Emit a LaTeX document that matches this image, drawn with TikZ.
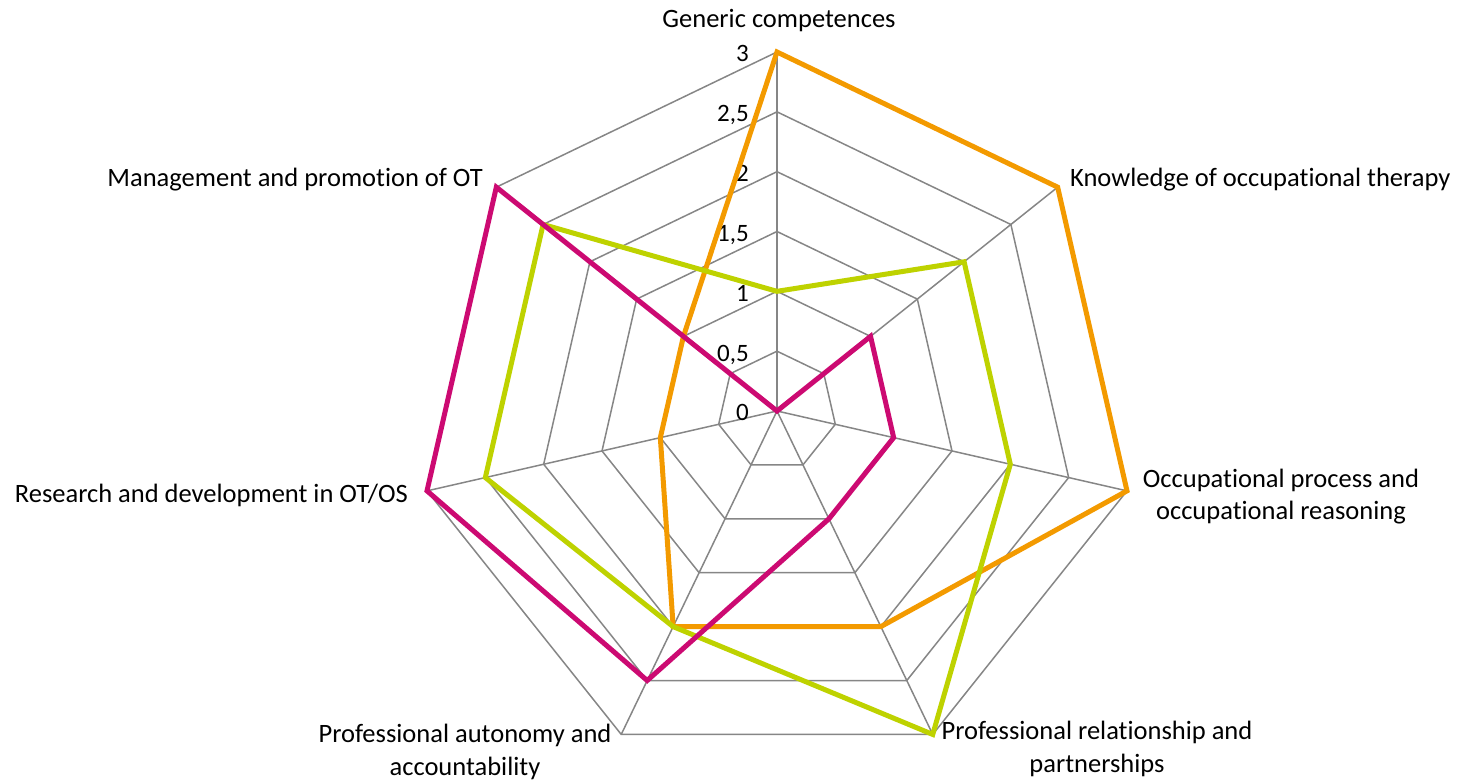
\documentclass[tikz,border=0pt]{standalone}
\usepackage{fontspec}
\setmainfont{Carlito}[Ligatures=NoCommon]
\definecolor{gridgray}{HTML}{868686}
\definecolor{serA}{HTML}{F39A00}
\definecolor{serB}{HTML}{BED200}
\definecolor{serC}{HTML}{CC0A72}
\begin{document}
\begin{tikzpicture}[x=1pt,y=1pt,
  gridline/.style={draw=gridgray, line width=1.5pt},
  series/.style={line width=5pt, line join=miter, miter limit=10},
  lab/.style={font=\fontsize{26.5}{32.5}\selectfont, inner sep=0pt},
  tick/.style={font=\fontsize{25}{28}\selectfont, inner sep=0pt, anchor=base east},
]
\useasboundingbox (-777,-370) rectangle (685,411);
% one scale step (0.5) is 59.83 units
\def\stepr{59.833}
% grid rings
\foreach \l in {1,...,6} {
  \draw[gridline] (90:\l*\stepr) \foreach \k in {1,...,6} { -- (90-\k*360/7:\l*\stepr) } -- cycle;
}
% spokes
\coordinate (c) at (0,0);
\foreach \k in {0,...,6} {
  \coordinate (ax\k) at (90-\k*360/7:6*\stepr);
  \draw[gridline] (c) -- (ax\k);
}
% tick labels
\foreach \t [count=\l from 0] in {0,{0,5},1,{1,5},2,{2,5},3} {
  \node[tick] (t\l) at (-28,\l*\stepr-10) {\t};
}
% data points
\foreach \v [count=\k from 0] in {3,3,3,2,2,1,1}
  \coordinate (a\k) at (90-\k*360/7:\v*2*\stepr);
\foreach \v [count=\k from 0] in {1,2,2,3,2,2.5,2.5}
  \coordinate (b\k) at (90-\k*360/7:\v*2*\stepr);
\foreach \v [count=\k from 0] in {0,1,1,1,2.5,3,3}
  \coordinate (m\k) at (90-\k*360/7:\v*2*\stepr);
\draw[series, draw=serA] (a0)--(a1)--(a2)--(a3)--(a4)--(a5)--(a6)--cycle;
\draw[series, draw=serB] (b0)--(b1)--(b2)--(b3)--(b4)--(b5)--(b6)--cycle;
\draw[series, draw=serC] (m0)--(m1)--(m2)--(m3)--(m4)--(m5)--(m6)--cycle;
% axis labels
\node[lab, anchor=base] (lgen) at (2,383) {Generic competences};
\node[lab, anchor=base west] (lknow) at (293,224) {Knowledge of occupational therapy};
\node[lab, anchor=base, align=center] (locc) at (504,-109) {Occupational process and\\occupational reasoning};
\node[lab, anchor=base, align=center] (lrel) at (320,-361) {Professional relationship and\\partnerships};
\node[lab, anchor=base, align=center] (laut) at (-312,-364) {Professional autonomy and\\accountability};
\node[lab, anchor=base east] (lres) at (-369,-92) {Research and development in OT/OS};
\node[lab, anchor=base east] (lman) at (-294,224) {Management and promotion of OT};
\end{tikzpicture}
\end{document}
